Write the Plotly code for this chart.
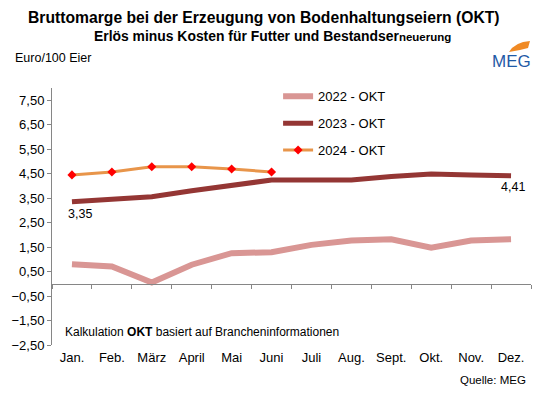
import plotly.graph_objects as go

months = ["Jan.", "Feb.", "März", "April", "Mai", "Juni", "Juli", "Aug.", "Sept.", "Okt.", "Nov.", "Dez."]
okt_2022 = [0.80, 0.71, 0.05, 0.78, 1.25, 1.29, 1.59, 1.77, 1.82, 1.48, 1.77, 1.82]
okt_2023 = [3.35, 3.46, 3.56, 3.80, 4.01, 4.24, 4.24, 4.24, 4.38, 4.49, 4.45, 4.41]
okt_2024 = [4.45, 4.57, 4.78, 4.78, 4.69, 4.57]
y_ticks = [-2.5, -1.5, -0.5, 0.5, 1.5, 2.5, 3.5, 4.5, 5.5, 6.5, 7.5]
y_range = [-2.5, 8.0]

FONT = "Liberation Sans, Arial, sans-serif"
C22 = "#D99694"
C23 = "#943634"
C24 = "#E8954A"
AX = "#868686"

fig = go.Figure()
fig.add_trace(go.Scatter(x=months, y=okt_2022, mode="lines", name="2022 - OKT",
                         line=dict(color=C22, width=6), legendgroup="a"))
fig.add_trace(go.Scatter(x=months, y=okt_2023, mode="lines", name="2023 - OKT",
                         line=dict(color=C23, width=5), legendgroup="b"))
fig.add_trace(go.Scatter(x=months[:len(okt_2024)], y=okt_2024, mode="lines+markers", name="2024 - OKT",
                         line=dict(color=C24, width=3),
                         marker=dict(symbol="diamond", size=7, color="#FF0000"),
                         legendgroup="c"))

zero_pos = (0 - y_range[0]) / (y_range[1] - y_range[0])

fig.update_layout(
    width=540, height=398,
    margin=dict(l=52, r=9, t=88, b=53),
    paper_bgcolor="white", plot_bgcolor="white",
    font=dict(family=FONT, size=13, color="black"),
    separators=",.",
    showlegend=True,
    legend=dict(x=0.472, y=1.026, xanchor="left", yanchor="top",
                bgcolor="rgba(0,0,0,0)", font=dict(size=13),
                tracegroupgap=7, itemwidth=30),
    xaxis=dict(type="category", range=[-0.5, 11.5], anchor="free", position=zero_pos,
               showline=True, linecolor=AX, linewidth=1,
               ticks="outside", tickson="boundaries", ticklen=4, tickcolor=AX,
               ticklabelstandoff=62, showgrid=False, zeroline=False,
               tickfont=dict(size=13)),
    yaxis=dict(range=y_range, tickvals=y_ticks, tickformat=".2f",
               showline=True, linecolor=AX, linewidth=1,
               ticks="outside", ticklen=4, tickcolor=AX,
               showgrid=False, zeroline=False, tickfont=dict(size=13)),
)

annotations = [
    dict(text="<b>Bruttomarge bei der Erzeugung von Bodenhaltungseiern (OKT)</b>",
         x=264, y=17, size=15.7),
    dict(text="<b>Erlös minus Kosten für Futter und Bestandser<span style='font-size:11.5px'>neuerung</span></b>",
         x=272, y=36, size=13.9),
]
for a in annotations:
    fig.add_annotation(text=a["text"], xref="paper", yref="paper",
                       x=(a["x"] - 52) / 479, y=1 + (88 - a["y"]) / 257,
                       xanchor="center", yanchor="middle", showarrow=False,
                       font=dict(size=a["size"], family=FONT))

fig.add_annotation(text="Euro/100 Eier", xref="paper", yref="paper",
                   x=(13 - 52) / 479, y=1 + (88 - 58) / 257, xanchor="left", yanchor="middle",
                   showarrow=False, font=dict(size=12.5))
fig.add_annotation(text="MEG", xref="paper", yref="paper",
                   x=(533 - 52) / 479, y=1 + (88 - 62) / 257, xanchor="right", yanchor="middle",
                   showarrow=False, font=dict(size=17, color="#1F5AA6", family=FONT))
fig.add_shape(type="path", xref="paper", yref="paper",
              path="M {0},{1} Q {2},{3} {4},{5} L {6},{7} L {8},{9} Z".format(
                  (509 - 52) / 479, 1 + (88 - 52) / 257,
                  (515 - 52) / 479, 1 + (88 - 42) / 257,
                  (530 - 52) / 479, 1 + (88 - 41) / 257,
                  (528 - 52) / 479, 1 + (88 - 48) / 257,
                  (520 - 52) / 479, 1 + (88 - 50) / 257),
              fillcolor="#F08A24", line=dict(width=0))

fig.add_annotation(text="3,35", x=months[0], y=okt_2023[0], xanchor="left", yanchor="middle",
                   xshift=-6, yshift=-12, showarrow=False, font=dict(size=12.5))
fig.add_annotation(text="4,41", x=months[-1], y=okt_2023[-1], xanchor="center", yanchor="middle",
                   xshift=2, yshift=-11, showarrow=False, font=dict(size=12.5))
fig.add_annotation(text="Kalkulation <b>OKT</b> basiert auf Brancheninformationen",
                   xref="paper", yref="paper", x=(63 - 52) / 479, y=(345 - 332) / 257,
                   xanchor="left", yanchor="middle", showarrow=False, font=dict(size=12))
fig.add_annotation(text="Quelle: MEG", xref="paper", yref="paper",
                   x=(528 - 52) / 479, y=(345 - 380) / 257, xanchor="right", yanchor="middle",
                   showarrow=False, font=dict(size=11.5))

fig.write_html("out.html", config={"displayModeBar": False},
               post_script="document.body.style.margin='0';")
